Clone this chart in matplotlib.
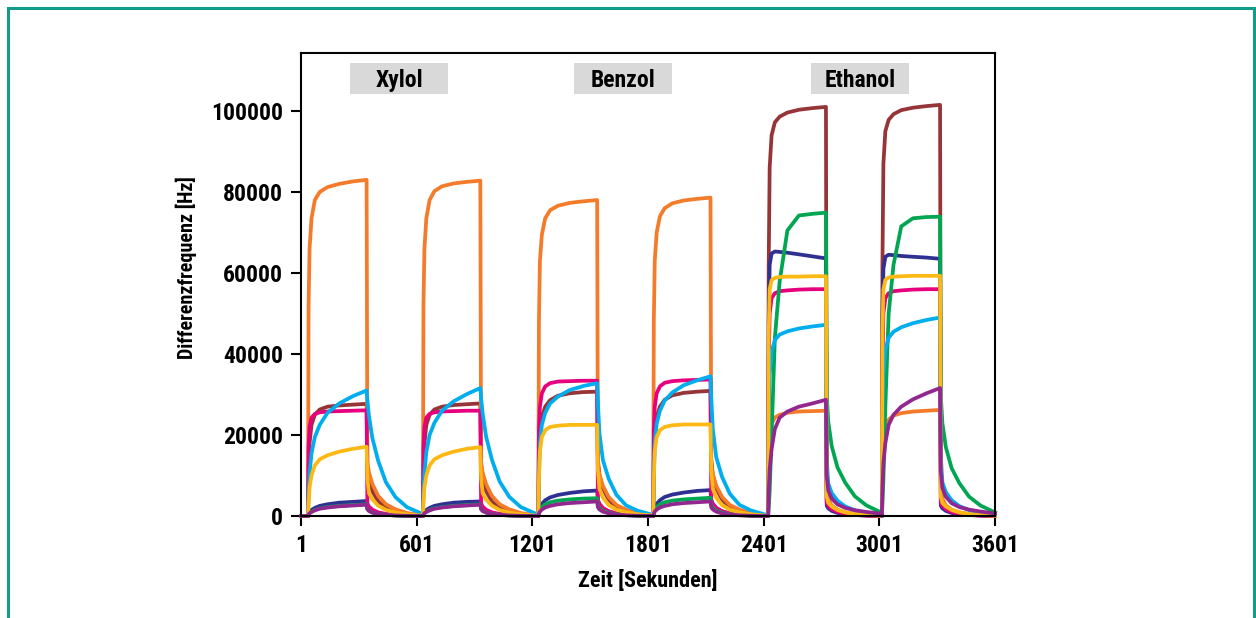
import matplotlib
matplotlib.use('Agg')
import matplotlib.pyplot as plt
from matplotlib.patches import Rectangle

plt.rcParams['font.family'] = ['Roboto Condensed', 'Liberation Sans Narrow', 'DejaVu Sans']
plt.rcParams['font.stretch'] = 'condensed'
plt.rcParams['font.weight'] = 'bold'

# Messzyklen: Begasung an/aus (Sekunden)
substances = ['Xylol', 'Benzol', 'Ethanol']
onsets = [37, 633, 1232, 1828, 2424, 3014]
offsets = [341, 931, 1537, 2125, 2724, 3316]

# Stuetzstellen relativ zu Beginn / Ende der Begasung (s)
on_knots = [0, 3, 8, 18, 35, 60, 100, 160, 230, 300]
off_knots = [0, 4, 12, 30, 60, 100, 150, 210, 285]

# Werte waehrend der Begasung (kHz), eine Zeile pro Puls
orange_on = [[0, 52, 66, 73.5, 78, 80, 81.2, 82, 82.6, 83.0],
             [0, 52, 66, 73.5, 78, 80.2, 81.4, 82.1, 82.5, 82.8],
             [0, 48, 63, 69.5, 73.5, 75.5, 76.6, 77.3, 77.7, 78.0],
             [0, 48, 63, 70, 74, 76, 77.2, 77.9, 78.3, 78.6],
             [0, 15, 20, 22.8, 24.3, 25, 25.5, 25.8, 25.9, 26.0],
             [0, 14, 19, 22, 23.8, 24.8, 25.4, 25.8, 26.0, 26.2]]
brown_on = [[0, 12, 18, 22.5, 25, 26.3, 27, 27.3, 27.5, 27.7],
            [0, 12, 18, 22.5, 25, 26.3, 27, 27.4, 27.6, 27.8],
            [0, 14, 20, 24.5, 27, 28.6, 29.7, 30.3, 30.6, 30.7],
            [0, 14, 20, 24.5, 27, 28.7, 29.8, 30.4, 30.7, 30.9],
            [0, 62, 86, 94, 97.2, 98.6, 99.6, 100.3, 100.7, 101.0],
            [0, 62, 87, 95, 97.8, 99.2, 100.2, 100.8, 101.2, 101.5]]
pink_on = [[0, 17, 22, 24.3, 25.2, 25.6, 25.8, 25.9, 26.0, 26.1],
           [0, 17, 22, 24.3, 25.2, 25.6, 25.8, 25.9, 26.0, 26.0],
           [0, 21, 27, 30.3, 32, 32.8, 33.2, 33.3, 33.4, 33.4],
           [0, 21, 27, 30.3, 32, 32.9, 33.3, 33.5, 33.6, 33.7],
           [0, 38, 50, 53.8, 55, 55.5, 55.7, 55.9, 56.0, 56.0],
           [0, 38, 50, 53.8, 55, 55.5, 55.7, 55.9, 56.0, 56.0]]
lightblue_on = [[0, 6, 10.5, 15.5, 19.5, 22.5, 25.5, 27.8, 29.6, 31.0],
                [0, 6, 10.5, 15.8, 20, 23, 26, 28.3, 30.1, 31.6],
                [0, 10, 18, 22.5, 25.5, 27.8, 29.5, 31.1, 32.1, 32.8],
                [0, 10, 18, 22.8, 26, 28.5, 30.5, 32.3, 33.5, 34.5],
                [0, 25, 35, 40.5, 43.5, 44.8, 45.6, 46.3, 46.8, 47.2],
                [0, 25, 35, 41, 44, 45.5, 46.6, 47.6, 48.4, 49.0]]
yellow_on = [[0, 3, 7, 10, 12.5, 14, 15, 15.9, 16.6, 17.1],
             [0, 3, 7, 10, 12.5, 14, 15, 15.9, 16.6, 17.0],
             [0, 9, 16, 19.5, 21.2, 22, 22.3, 22.5, 22.5, 22.5],
             [0, 9, 16, 19.5, 21.2, 22, 22.4, 22.6, 22.6, 22.6],
             [0, 45, 56, 58.2, 58.8, 59, 59.1, 59.1, 59.2, 59.2],
             [0, 45, 56, 58.3, 58.9, 59.1, 59.2, 59.3, 59.3, 59.3]]
navy_on = [[0, 0.6, 1.0, 1.5, 2.0, 2.5, 2.9, 3.3, 3.5, 3.7],
           [0, 0.6, 1.0, 1.5, 2.0, 2.5, 2.9, 3.3, 3.5, 3.6],
           [0, 1.2, 2.0, 3.0, 3.9, 4.6, 5.2, 5.7, 6.1, 6.3],
           [0, 1.2, 2.0, 3.0, 3.9, 4.7, 5.3, 5.8, 6.2, 6.4],
           [0, 48, 62, 64.8, 65.3, 65.2, 65, 64.6, 64.1, 63.6],
           [0, 48, 61, 64, 64.5, 64.4, 64.2, 64, 63.8, 63.5]]
purple_on = [[0, 0.4, 0.7, 1.0, 1.4, 1.8, 2.1, 2.4, 2.6, 2.8],
             [0, 0.4, 0.7, 1.0, 1.4, 1.8, 2.1, 2.4, 2.6, 2.8],
             [0, 0.6, 1.1, 1.6, 2.1, 2.5, 2.9, 3.2, 3.4, 3.6],
             [0, 0.6, 1.1, 1.6, 2.1, 2.5, 2.9, 3.2, 3.4, 3.6],
             [0, 6, 11.5, 16.5, 21.5, 24.3, 25.8, 27, 27.8, 28.7],
             [0, 7, 13, 18, 22.5, 25, 27, 28.8, 30.3, 31.6]]
green_on = [[0, 0.4, 0.7, 1.1, 1.5, 1.9, 2.2, 2.5, 2.7, 2.9],
            [0, 0.4, 0.7, 1.1, 1.5, 1.9, 2.2, 2.5, 2.7, 2.9],
            [0, 0.8, 1.4, 2.2, 2.9, 3.4, 3.8, 4.1, 4.3, 4.4],
            [0, 0.8, 1.4, 2.2, 2.9, 3.4, 3.8, 4.1, 4.3, 4.5],
            [0, 2, 6, 20, 44, 58, 70.5, 74.2, 74.6, 74.9],
            [0, 3, 9, 27, 50, 62, 71.5, 73.5, 73.8, 73.9]]

# Abklingen nach der Begasung (Anteil vom Endwert), je Substanz
orange_off = [[1, 0.16, 0.13, 0.095, 0.06, 0.035, 0.02, 0.009, 0.002],
              [1, 0.16, 0.13, 0.095, 0.06, 0.035, 0.02, 0.009, 0.002],
              [1, 0.25, 0.16, 0.1, 0.06, 0.035, 0.02, 0.01, 0.003]]
brown_off = [[1, 0.45, 0.33, 0.22, 0.13, 0.07, 0.035, 0.015, 0.004],
             [1, 0.45, 0.33, 0.22, 0.13, 0.07, 0.035, 0.015, 0.004],
             [1, 0.04, 0.03, 0.02, 0.012, 0.007, 0.004, 0.002, 0.0]]
pink_off = [[1, 0.12, 0.09, 0.06, 0.035, 0.02, 0.01, 0.005, 0.001],
            [1, 0.12, 0.09, 0.06, 0.035, 0.02, 0.01, 0.005, 0.001],
            [1, 0.06, 0.045, 0.03, 0.018, 0.01, 0.005, 0.002, 0.0]]
lightblue_off = [[1, 0.92, 0.8, 0.62, 0.44, 0.27, 0.15, 0.07, 0.02],
                 [1, 0.85, 0.62, 0.42, 0.28, 0.16, 0.08, 0.04, 0.01],
                 [1, 0.3, 0.17, 0.12, 0.08, 0.05, 0.03, 0.015, 0.004]]
yellow_off = [[1, 0.55, 0.33, 0.24, 0.15, 0.09, 0.05, 0.025, 0.006],
              [1, 0.5, 0.3, 0.2, 0.12, 0.07, 0.04, 0.02, 0.005],
              [1, 0.08, 0.055, 0.04, 0.025, 0.015, 0.008, 0.004, 0.001]]
navy_off = [[1, 0.6, 0.45, 0.3, 0.18, 0.1, 0.05, 0.02, 0.005],
            [1, 0.6, 0.45, 0.3, 0.18, 0.1, 0.05, 0.02, 0.005],
            [1, 0.04, 0.03, 0.02, 0.012, 0.007, 0.004, 0.002, 0.0]]
purple_off = [[1, 0.6, 0.45, 0.3, 0.18, 0.1, 0.05, 0.02, 0.005],
              [1, 0.6, 0.45, 0.3, 0.18, 0.1, 0.05, 0.02, 0.005],
              [1, 0.35, 0.22, 0.15, 0.1, 0.07, 0.05, 0.035, 0.02]]
green_off = [[1, 0.6, 0.45, 0.3, 0.18, 0.1, 0.05, 0.02, 0.005],
             [1, 0.6, 0.45, 0.3, 0.18, 0.1, 0.05, 0.02, 0.005],
             [1, 0.4, 0.31, 0.23, 0.16, 0.11, 0.065, 0.035, 0.012]]

series = [
    (brown_on, brown_off, '#963438'),
    (orange_on, orange_off, '#f47b2a'),
    (navy_on, navy_off, '#2e3192'),
    (pink_on, pink_off, '#e6007e'),
    (green_on, green_off, '#00a651'),
    (lightblue_on, lightblue_off, '#00adee'),
    (yellow_on, yellow_off, '#fdb913'),
    (purple_on, purple_off, '#92278f'),
]


def build(on_vals, off_fracs):
    t, y = [1], [0]
    for k in range(len(onsets)):
        a, b = onsets[k], offsets[k]
        scale = (b - a) / on_knots[-1]
        for kn, v in zip(on_knots, on_vals[k]):
            t.append(a + kn * scale)
            y.append(v * 1000)
        end = on_vals[k][-1]
        for kn, f in zip(off_knots[1:], off_fracs[k // 2][1:]):
            t.append(b + kn)
            y.append(end * f * 1000)
    return t, y


fig = plt.figure(figsize=(12.56, 6.18), dpi=100)
ax = fig.add_axes([0.2397, 0.165, 0.5525, 0.7492])

for on_vals, off_fracs, col in series:
    t, y = build(on_vals, off_fracs)
    ax.plot(t, y, color=col, lw=2.7, solid_joinstyle='round', clip_on=False)

ax.set_xlim(1, 3601)
ax.set_ylim(0, 114300)
ax.set_xticks([1, 601, 1201, 1801, 2401, 3001, 3601])
ax.set_yticks([0, 20000, 40000, 60000, 80000, 100000])
ax.tick_params(labelsize=17, length=7, width=1.5, pad=6)
for sp in ax.spines.values():
    sp.set_linewidth(1.5)
ax.set_xlabel('Zeit [Sekunden]', fontsize=16, fontweight='bold', labelpad=9)
ax.set_ylabel('Differenzfrequenz [Hz]', fontsize=14.5, fontweight='bold')
ax.yaxis.set_label_coords(-0.150, 0.536)

# Beschriftungsfelder
label_x = [0.1412, 0.464, 0.8055]
for name, cx in zip(substances, label_x):
    ax.add_patch(Rectangle((cx - 0.0706, 0.9114), 0.1412, 0.067, transform=ax.transAxes,
                           facecolor='#d9d9d9', edgecolor='none', zorder=3))
    ax.text(cx, 0.941, name, transform=ax.transAxes, ha='center', va='center',
            fontsize=17, fontweight='bold', zorder=4)

# Rahmen
fig.patches.append(Rectangle((0.0064, -0.05), 0.992, 0.987 + 0.05, transform=fig.transFigure,
                             fill=False, edgecolor='#149c8a', lw=2.2))

fig.savefig('out.png', dpi=100)
